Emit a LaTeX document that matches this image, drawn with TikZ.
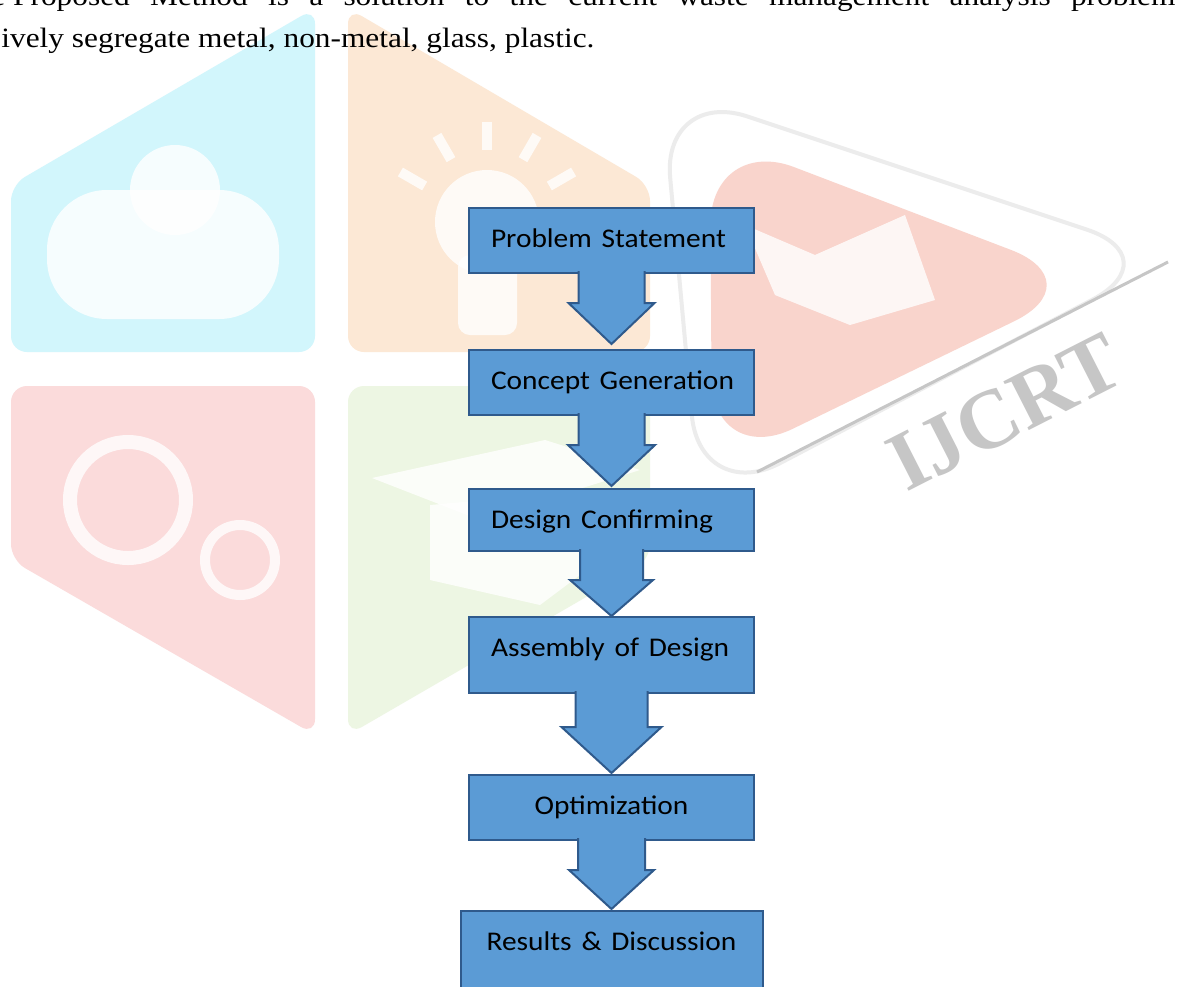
\documentclass[tikz,border=0pt]{standalone}
\usepackage{fontspec}
\usepackage{graphicx}
\usepackage{tikz}
\usepackage{xcolor}
\usetikzlibrary{positioning, calc}
\setmainfont{Liberation Serif}
\newfontfamily\calibri{Carlito}

\definecolor{boxfill}{HTML}{5B9BD5}
\definecolor{boxedge}{HTML}{2F5A8C}
\definecolor{tilecyan}{HTML}{D2F6FC}
\definecolor{tileorange}{HTML}{FCE8D5}
\definecolor{tilered}{HTML}{FBDBDB}
\definecolor{tilegreen}{HTML}{EDF6E3}
\definecolor{playred}{HTML}{F9D4CC}

\tikzstyle{stepbox} = [rectangle, draw=boxedge, fill=boxfill, line width=1pt, outer sep=0pt, inner xsep=11pt, inner ysep=0pt, text width=120.5pt, align=left, text height=19.75pt, font=\calibri\fontsize{13.5}{16}\selectfont]
\tikzstyle{blockarrow} = [draw=boxedge, fill=boxfill, line width=1pt, line join=miter]
\tikzstyle{mark white} = [fill=white, fill opacity=0.8]

\newcommand{\wide}[1]{\scalebox{1.09}[1]{#1}}
% from, to, half shaft, half head, head length, gap above next box
\newcommand{\flowarrow}[6]{%
  \path[blockarrow] ($(#1.south)+(-#3,-2)$) -- ($(#2.north)+(-#3,-#6-#5)$) -- ($(#2.north)+(-#4,-#6-#5)$) -- ($(#2.north)+(0,-#6)$) -- ($(#2.north)+(#4,-#6-#5)$) -- ($(#2.north)+(#3,-#6-#5)$) -- ($(#1.south)+(#3,-2)$);}

\begin{document}
\begin{tikzpicture}[x=0.5pt, y=-0.5pt]
    \useasboundingbox (0,0) rectangle (1177,986);
    \fill[white] (0,0) rectangle (1177,986);
    \clip (0,0) rectangle (1177,986);

    % Watermark
    \fill[tilecyan, rounded corners=8] (11,185) -- (315,8) -- (315,352) -- (11,352) -- cycle;
    \fill[tileorange, rounded corners=8] (348,8) -- (650,185) -- (650,352) -- (348,352) -- cycle;
    \fill[tilered, rounded corners=8] (11,386) -- (315,386) -- (315,735) -- (11,560) -- cycle;
    \fill[tilegreen, rounded corners=8] (348,386) -- (650,386) -- (650,560) -- (348,735) -- cycle;
    \fill[mark white, rounded corners=30] (47,190) rectangle (279,319);
    \fill[mark white] (175,190) circle (45);
    \fill[mark white] (487,222) circle (52);
    \fill[mark white, rounded corners=6] (458,255) rectangle (517,335);
    \foreach \a in {-30,-60,-90,-120,-150}
        \draw[white, opacity=0.8, line width=5pt] ($(487,222)+(\a:72)$) -- ($(487,222)+(\a:100)$);
    \draw[white, opacity=0.8, line width=7pt] (128,500) circle (58);
    \draw[white, opacity=0.8, line width=5pt] (240,560) circle (35);
    \fill[mark white] (372,478) -- (545,440) -- (640,470) -- (480,520) -- cycle;
    \fill[mark white] (430,505) -- (430,580) -- (540,605) -- (600,560) -- (600,490) -- cycle;
    \draw[gray!15, line width=2pt, rounded corners=45] (662,88) -- (1172,258) -- (700,505) -- cycle;
    \fill[playred, rounded corners=45] (710,135) -- (1095,282) -- (712,468) -- cycle;
    \fill[mark white] (745,225) -- (815,255) -- (905,215) -- (935,300) -- (850,325) -- (775,295) -- cycle;
    \draw[gray!45, line width=1.5pt] (757,472) -- (1168,262);
    \node[rotate=27, text=gray!45, font=\bfseries\fontsize{42}{42}\selectfont] (brand) at (1005,412) {IJCRT};

    % Text above
    \node[anchor=base west, inner sep=0pt, font=\fontsize{14}{16}\selectfont] (introa) at (-9,5) {\scalebox{1.12}[1]{\makebox[528.6pt][s]{e\kern3.5pt Proposed Method is a solution to the current waste management analysis problem}}};
    \node[anchor=base west, inner sep=0pt, font=\fontsize{14}{16}\selectfont] (introb) at (1,47) {\scalebox{1.12}[1]{ively segregate metal, non-metal, glass, plastic.}};

    % Nodes
    \node [stepbox, anchor=north, text depth=12.75pt] (ps) at (611.5,208) {\wide{Problem Statement}};
    \node [stepbox, below=38.5pt of ps, text depth=12.75pt] (cg) {\wide{Concept Generation}};
    \node [stepbox, below=37pt of cg, text depth=11.25pt] (dc) {\wide{Design Confirming}};
    \node [stepbox, below=33pt of dc, text depth=18.25pt] (ad) {\wide{Assembly of Design}};
    \node [stepbox, below=41pt of ad, text depth=12.75pt, align=center] (op) {\wide{Optimization}};
    \node [stepbox, below=35.5pt of op, text depth=20.25pt, text width=129pt, align=center] (rd) {\wide{Results \& Discussion}};

    % Arrows
    \flowarrow{ps}{cg}{33}{43}{41}{6}
    \flowarrow{cg}{dc}{33}{43.5}{41}{3}
    \flowarrow{dc}{ad}{31.5}{41.5}{36}{1}
    \flowarrow{ad}{op}{36}{50}{46}{2}
    \flowarrow{op}{rd}{33.5}{42.5}{39}{2}

\end{tikzpicture}
\end{document}
